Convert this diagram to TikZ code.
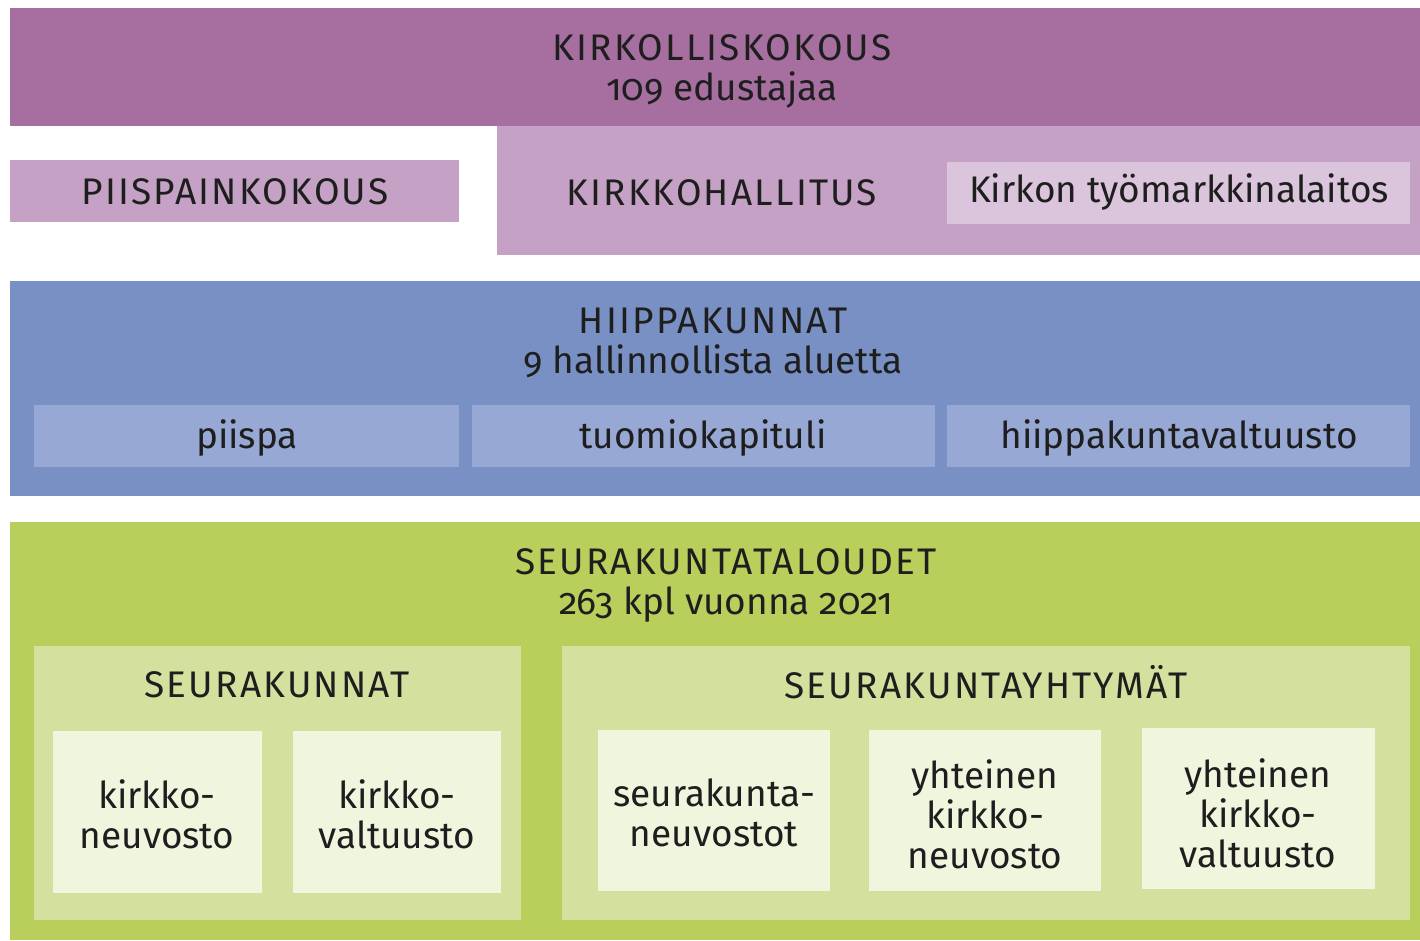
\documentclass[tikz,border=0pt]{standalone}
\usepackage{fontspec}
\setmainfont{Fira Sans}[Numbers=OldStyle]
\newfontfamily\capsfont{Fira Sans}[Numbers=OldStyle,LetterSpace=6]
\usetikzlibrary{fit}
\definecolor{purA}{HTML}{A66FA0}
\definecolor{purB}{HTML}{C4A1C5}
\definecolor{purC}{HTML}{DAC5DC}
\definecolor{bluA}{HTML}{7890C3}
\definecolor{bluB}{HTML}{97A8D5}
\definecolor{grnA}{HTML}{B8CF5C}
\definecolor{grnB}{HTML}{D4E19E}
\definecolor{grnC}{HTML}{F0F5DE}
\definecolor{ink}{HTML}{1E1E1E}
\tikzset{
  panel/.style={inner sep=0pt, outer sep=0pt, draw=none, fill=#1},
  lbl/.style={text=ink, align=center, inner sep=0pt, font=\fontsize{18.5}{20}\selectfont}
}
\begin{document}
\begin{tikzpicture}[x=0.5pt,y=-0.5pt]
\useasboundingbox[fill=white] (0,0) rectangle (1420,941);
% top
\node[panel=purA, fit={(10,8) (1420,126)}] (kk) {};
\node[panel=purB, fit={(10,160) (459,222)}] (pk) {};
\node[panel=purB, fit={(497,126) (1420,255)}] (kh) {};
\node[panel=purC, fit={(947,162) (1410,224)}] (tm) {};
% blue
\node[panel=bluA, fit={(10,281) (1420,496)}] (hk) {};
\node[panel=bluB, fit={(34,405) (459,467)}] (pi) {};
\node[panel=bluB, fit={(472,405) (935,467)}] (tk) {};
\node[panel=bluB, fit={(947,405) (1410,467)}] (hv) {};
% green
\node[panel=grnA, fit={(10,522) (1420,940)}] (st) {};
\node[panel=grnB, fit={(34,646) (521,920)}] (sk) {};
\node[panel=grnC, fit={(53,731) (262,893)}] (kn) {};
\node[panel=grnC, fit={(293,731) (501,893)}] (kv) {};
\node[panel=grnB, fit={(562,646) (1410,920)}] (sy) {};
\node[panel=grnC, fit={(598,730) (830,891)}] (sn) {};
\node[panel=grnC, fit={(869,730) (1101,891)}] (yn) {};
\node[panel=grnC, fit={(1142,728) (1375,889)}] (yv) {};
% texts
\node[lbl] (t1) at (722,71) {{\capsfont KIRKOLLISKOKOUS}\\109 edustajaa};
\node[lbl] (t2) at (235,192) {\capsfont PIISPAINKOKOUS};
\node[lbl] (t3) at (722,193) {\capsfont KIRKKOHALLITUS};
\node[lbl] (t4) at (1179,192) {Kirkon työmarkkinalaitos};
\node[lbl] (t5) at (713,343) {{\capsfont HIIPPAKUNNAT}\\9 hallinnollista aluetta};
\node[lbl] (t6) at (247,438) {piispa};
\node[lbl] (t7) at (703,438) {tuomiokapituli};
\node[lbl] (t8) at (1179,438) {hiippakuntavaltuusto};
\node[lbl] (t9) at (726,585) {{\capsfont SEURAKUNTATALOUDET}\\263 kpl vuonna 2021};
\node[lbl] (t10) at (277,685) {\capsfont SEURAKUNNAT};
\node[lbl] (t11) at (157,814) {kirkko-\\neuvosto};
\node[lbl] (t12) at (397,814) {kirkko-\\valtuusto};
\node[lbl] (t13) at (986,682) {\capsfont SEURAKUNTAYHTYMÄT};
\node[lbl] (t14) at (714,813) {seurakunta-\\neuvostot};
\node[lbl] (t15) at (985,814) {yhteinen\\kirkko-\\neuvosto};
\node[lbl] (t16) at (1258,813) {yhteinen\\kirkko-\\valtuusto};
\end{tikzpicture}
\end{document}
